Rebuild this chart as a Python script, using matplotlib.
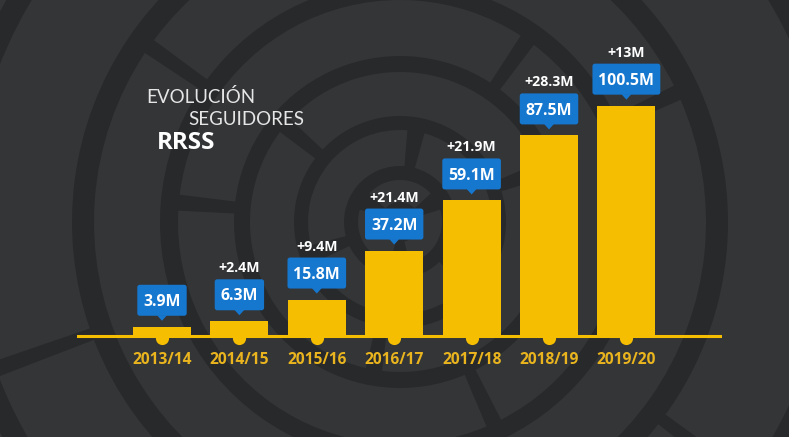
import matplotlib
matplotlib.use("Agg")
import matplotlib.pyplot as plt
import numpy as np
from matplotlib.patches import Wedge, FancyBboxPatch, Polygon
from matplotlib.transforms import IdentityTransform

# ---------------- data ----------------
seasons = ["2013/14", "2014/15", "2015/16", "2016/17", "2017/18", "2018/19", "2019/20"]
followers = [3.9, 6.3, 15.8, 37.2, 59.1, 87.5, 100.5]
value_labels = ["3.9M", "6.3M", "15.8M", "37.2M", "59.1M", "87.5M", "100.5M"]
growth_labels = ["", "+2.4M", "+9.4M", "+21.4M", "+21.9M", "+28.3M", "+13M"]
title_lines = ["EVOLUCIÓN", "SEGUIDORES", "RRSS"]

# ---------------- style ----------------
W, H, DPI = 789, 437, 100
BG = "#27292b"
RING = "#333537"
YELLOW = "#F6BE00"
LABEL_YELLOW = "#E9B41E"
BLUE = "#1677CF"
FONT = "Open Sans"

PX_PER_M = 2.289       # vertical scale, pixels per million
BASE_PX = 335.7        # baseline, pixels from top
STEP_PX = 77.4         # distance between bar centres
FIRST_PX = 162.0       # centre of first bar
AX_L, AX_R = 77, 722   # baseline extent

fig = plt.figure(figsize=(W / DPI, H / DPI), dpi=DPI)
fig.patch.set_facecolor(BG)

# background decoration (pixel coordinates)
bg = fig.add_axes([0, 0, 1, 1])
bg.set_xlim(0, W)
bg.set_ylim(H, 0)
bg.axis("off")
CX, CY = 400, 222
rings = [(20, 42, [90, 210, 330]),
         (56, 92, [40, 160, 280]),
         (106, 150, [100, 220, 340]),
         (166, 222, [65, 185, 305]),
         (240, 306, [95, 215, 335]),
         (328, 430, [37, 160, 268]),
         (452, 680, [10, 120, 230, 320])]
GAP = 14
for r0, r1, gaps in rings:
    gaps = sorted(gaps)
    rm = (r0 + r1) / 2
    half = np.degrees(GAP / 2 / rm)
    for k in range(len(gaps)):
        a0 = gaps[k] + half
        a1 = gaps[(k + 1) % len(gaps)] - half
        if a1 <= a0:
            a1 += 360
        bg.add_patch(Wedge((CX, CY), r1, a0, a1, width=r1 - r0,
                           facecolor=RING, edgecolor="none"))

# title
bg.text(146, 103, title_lines[0], color="#E6E6E6", fontsize=13.5,
        family="Lato", fontweight="normal", ha="left", va="baseline")
bg.text(188, 125, title_lines[1], color="#E6E6E6", fontsize=13.5,
        family="Lato", fontweight="normal", ha="left", va="baseline")
bg.text(157, 149, title_lines[2], color="white", fontsize=17.5,
        family=FONT, fontweight="bold", ha="left", va="baseline")

# main chart axes
ax = fig.add_axes([AX_L / W, 0, (AX_R - AX_L) / W, 1])
ax.set_facecolor("none")
ax.axis("off")
ax.set_xlim((AX_L - FIRST_PX) / STEP_PX, (AX_R - FIRST_PX) / STEP_PX)
ax.set_ylim(-(H - BASE_PX) / PX_PER_M, BASE_PX / PX_PER_M)
ax.set_autoscale_on(False)

x = np.arange(len(seasons))
ax.bar(x, followers, width=58 / STEP_PX, color=YELLOW, zorder=3)
ax.axhline(0, color=YELLOW, lw=2.2, zorder=2)
ax.scatter(x, [-2.3 / PX_PER_M] * len(x), s=90, color=YELLOW, zorder=2, linewidths=0)

def y_from_px(py):
    return (BASE_PX - py) / PX_PER_M

for i, s in enumerate(seasons):
    ax.text(i, y_from_px(360), s, ha="center", va="center", color=LABEL_YELLOW,
            fontsize=11.2, family=FONT, fontweight="bold", zorder=5)

fig.canvas.draw()
renderer = fig.canvas.get_renderer()

BOX_H = 31
BOX_OFF = 26.5   # px from bar top to box centre
VAL_FS = 11.4
DELTA_FS = 10.2
for i, v in enumerate(followers):
    cx, cy = ax.transData.transform((i, v))
    bcy = cy + BOX_OFF
    cap = 0.714 * VAL_FS * DPI / 72
    t = ax.annotate(value_labels[i], (i, v), xytext=(0, (BOX_OFF - cap / 2) * 72 / DPI),
                    textcoords="offset points", ha="center", va="baseline",
                    color="white", fontsize=VAL_FS, family=FONT, fontweight="bold",
                    zorder=6)
    tw = t.get_window_extent(renderer).width
    bw = tw + 12
    box = FancyBboxPatch((cx - bw / 2, bcy - BOX_H / 2), bw, BOX_H,
                         boxstyle="round,pad=0,rounding_size=2.5",
                         transform=IdentityTransform(), facecolor=BLUE,
                         edgecolor="none", zorder=5)
    ax.add_patch(box)
    by = bcy - BOX_H / 2
    tri = Polygon([(cx - 5, by + 0.5), (cx + 5, by + 0.5), (cx, by - 5)], closed=True,
                  transform=IdentityTransform(), facecolor=BLUE, edgecolor="none", zorder=5)
    ax.add_patch(tri)
    if growth_labels[i]:
        dcap = 0.714 * DELTA_FS * DPI / 72
        ax.annotate(growth_labels[i], (i, v),
                    xytext=(0, (BOX_OFF + BOX_H / 2 + 12 - dcap / 2) * 72 / DPI),
                    textcoords="offset points", ha="center", va="baseline",
                    color="white", fontsize=DELTA_FS, family=FONT, fontweight="bold",
                    zorder=6)

fig.savefig("out.png", dpi=DPI, facecolor=BG)
